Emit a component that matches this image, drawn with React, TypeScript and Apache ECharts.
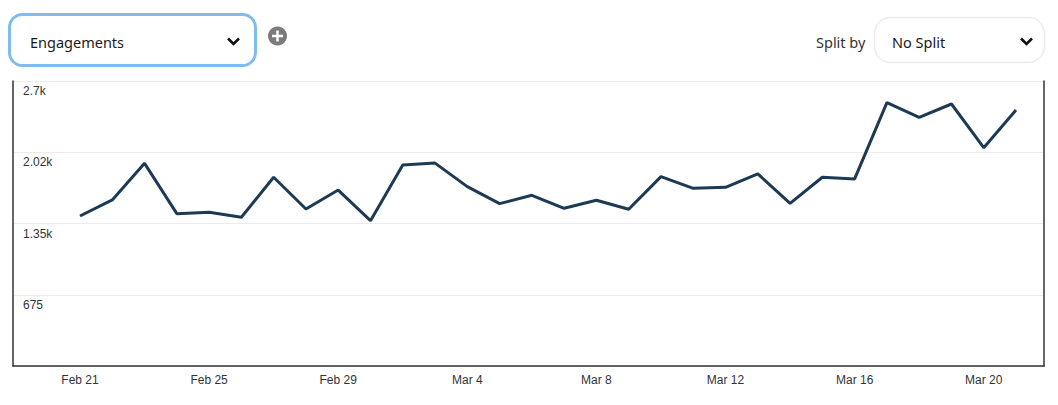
import React, { useEffect, useRef } from "react";
import * as echarts from "echarts";

const dates = [
  "Feb 21", "Feb 22", "Feb 23", "Feb 24", "Feb 25", "Feb 26", "Feb 27", "Feb 28", "Feb 29",
  "Mar 1", "Mar 2", "Mar 3", "Mar 4", "Mar 5", "Mar 6", "Mar 7", "Mar 8", "Mar 9", "Mar 10",
  "Mar 11", "Mar 12", "Mar 13", "Mar 14", "Mar 15", "Mar 16", "Mar 17", "Mar 18", "Mar 19",
  "Mar 20", "Mar 21",
];
const engagements = [
  1421, 1573, 1920, 1443, 1456, 1409, 1788, 1487, 1667, 1377,
  1904, 1922, 1699, 1538, 1617, 1494, 1570, 1485, 1794, 1683,
  1693, 1820, 1541, 1788, 1772, 2495, 2356, 2482, 2068, 2425,
];
const yTicks = [0, 675, 1350, 2025, 2700];
const yTickLabels = ["", "675", "1.35k", "2.02k", "2.7k"];
const xLabelIdx = [0, 4, 8, 12, 16, 20, 24, 28];

const hdrFont = "'Noto Sans', 'Open Sans', sans-serif";

export default function App() {
  const ref = useRef<HTMLDivElement>(null);
  useEffect(() => {
    if (!ref.current) return;
    const chart = echarts.init(ref.current, undefined, { renderer: "svg" });
    chart.setOption({
      animation: false,
      backgroundColor: "#ffffff",
      grid: { left: 13, right: 14, top: 81, bottom: 39, containLabel: false },
      xAxis: {
        type: "value",
        min: -2.076,
        max: 29.867,
        axisLine: { show: true, onZero: false, lineStyle: { color: "#333", width: 1.5 } },
        axisTick: { show: false },
        splitLine: { show: false },
        axisLabel: {
          customValues: xLabelIdx,
          formatter: (v: number) => dates[Math.round(v)] ?? "",
          color: "#333",
          fontSize: 12,
          fontFamily: "'Liberation Sans', Arial, sans-serif",
          margin: 8,
        },
      },
      yAxis: [
        {
          type: "value",
          min: 0,
          max: yTicks[yTicks.length - 1],
          interval: 675,
          axisLine: { show: true, onZero: false, lineStyle: { color: "#333", width: 1.5 } },
          axisTick: { show: false },
          splitLine: { show: true, lineStyle: { color: "#ececec", width: 1 } },
          axisLabel: {
            inside: true,
            margin: 10,
            verticalAlign: "top",
            padding: [4, 0, 0, 0],
            color: "#333",
            fontSize: 12,
            fontFamily: "'Liberation Sans', Arial, sans-serif",
            formatter: (v: number) => yTickLabels[yTicks.indexOf(v)] ?? "",
          },
        },
        {
          type: "value",
          position: "right",
          min: 0,
          max: yTicks[yTicks.length - 1],
          interval: 675,
          axisLine: { show: true, onZero: false, lineStyle: { color: "#333", width: 1.5 } },
          axisTick: { show: false },
          splitLine: { show: false },
          axisLabel: { show: false },
        },
      ],
      series: [
        {
          type: "line",
          data: engagements.map((v, i) => [i, v]),
          showSymbol: false,
          symbol: "none",
          lineStyle: { color: "#1d3a55", width: 3 },
          itemStyle: { color: "#1d3a55" },
        },
      ],
      graphic: [
        {
          type: "rect",
          shape: { x: 9.5, y: 14.5, width: 246, height: 51, r: 13 },
          style: { fill: "#ffffff", stroke: "#80bcef", lineWidth: 3 },
        },
        {
          type: "text",
          x: 30,
          y: 42,
          style: { text: "Engagements", fontSize: 14.5, fontFamily: hdrFont, fill: "#1a1a1a", verticalAlign: "middle" },
        },
        {
          type: "polyline",
          shape: { points: [[228, 38.5], [233.5, 44], [239, 38.5]] },
          style: { stroke: "#111", lineWidth: 2.6, fill: "none" },
        },
        { type: "circle", shape: { cx: 277.5, cy: 36, r: 9.5 }, style: { fill: "#7b7b7b" } },
        { type: "line", shape: { x1: 272, y1: 36, x2: 283, y2: 36 }, style: { stroke: "#fff", lineWidth: 2.5 } },
        { type: "line", shape: { x1: 277.5, y1: 30.5, x2: 277.5, y2: 41.5 }, style: { stroke: "#fff", lineWidth: 2.5 } },
        {
          type: "text",
          x: 816,
          y: 42,
          style: { text: "Split by", fontSize: 14.5, fontFamily: hdrFont, fill: "#333", verticalAlign: "middle" },
        },
        {
          type: "rect",
          shape: { x: 874.5, y: 17.5, width: 170, height: 45, r: 16 },
          style: { fill: "#ffffff", stroke: "#ececec", lineWidth: 1.5 },
        },
        {
          type: "text",
          x: 892,
          y: 42,
          style: { text: "No Split", fontSize: 14.5, fontFamily: hdrFont, fill: "#1a1a1a", verticalAlign: "middle" },
        },
        {
          type: "polyline",
          shape: { points: [[1021, 38.5], [1026.5, 44], [1032, 38.5]] },
          style: { stroke: "#111", lineWidth: 2.6, fill: "none" },
        },
      ],
    });
    return () => chart.dispose();
  }, []);
  return (
    <div
      ref={ref}
      style={{ position: "fixed", left: 0, top: 0, width: 1058, height: 405, background: "#fff" }}
    />
  );
}
